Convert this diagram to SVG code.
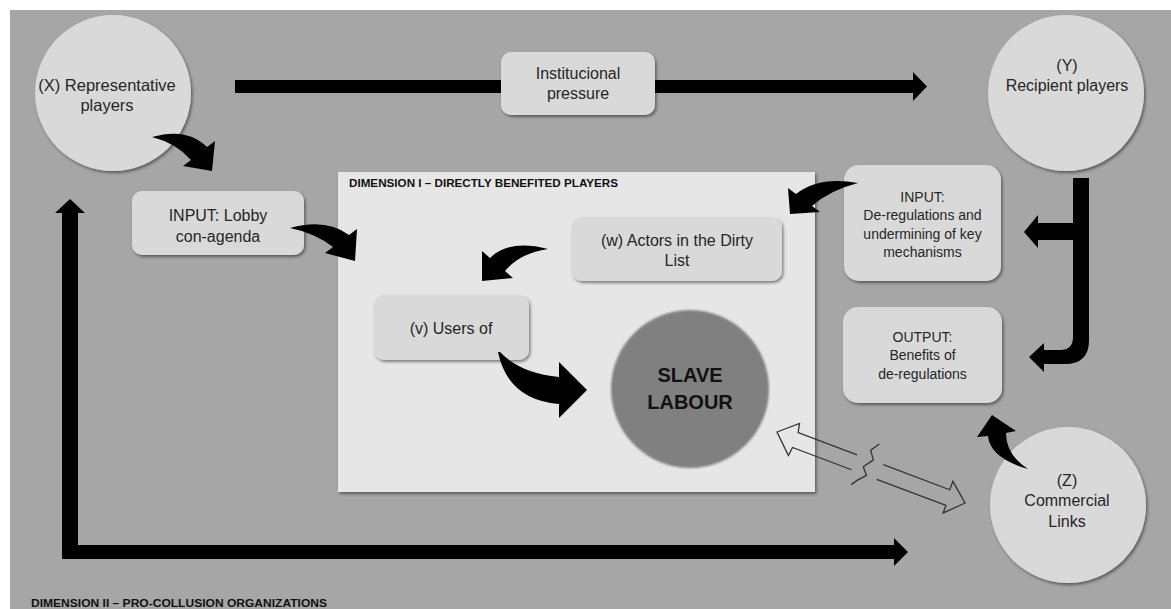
<svg xmlns="http://www.w3.org/2000/svg" width="1171" height="609" viewBox="0 0 1171 609">
<defs>
<filter id="sh" x="-20%" y="-20%" width="140%" height="140%">
<feDropShadow dx="1.5" dy="2" stdDeviation="1.8" flood-color="#000" flood-opacity="0.45"/>
</filter>
<filter id="bl" x="-20%" y="-20%" width="140%" height="140%">
<feGaussianBlur stdDeviation="1.2"/>
</filter>
</defs>
<style>
.node{fill:#d9d9d9;filter:url(#sh)}
.t{font-family:"Liberation Sans",Arial,sans-serif;font-size:16px;fill:#262626;text-anchor:middle}
.s{font-size:14px}
.title{font-family:"Liberation Sans",Arial,sans-serif;font-size:10.5px;font-weight:bold;fill:#111}
.blk{fill:#000}
.hollow{fill:none;stroke:#333;stroke-width:1.3;stroke-linejoin:miter}
</style>
<rect x="0" y="0" width="1171" height="609" fill="#fff"/>
<rect x="10" y="10" width="1161" height="599" fill="#a6a6a6"/>

<g id="dimension-1">
<rect x="338" y="172" width="477" height="320" fill="#e7e6e6" filter="url(#sh)"/>
<text class="title" x="349" y="187" textLength="269" lengthAdjust="spacingAndGlyphs">DIMENSION I – DIRECTLY BENEFITED PLAYERS</text>
</g>

<g id="node-x">
<circle class="node" cx="113" cy="93" r="78"/>
<text class="t" x="107" y="91" style="font-size:16.5px">(X) Representative</text>
<text class="t" x="107" y="111" style="font-size:16.5px">players</text>
</g>

<g id="node-y">
<circle class="node" cx="1066" cy="93" r="78"/>
<text class="t" x="1067" y="71">(Y)</text>
<text class="t" x="1067" y="91">Recipient players</text>
</g>

<g id="node-pressure">
<rect class="node" x="501" y="52" width="154" height="63" rx="10"/>
<text class="t" x="578" y="79">Institucional</text>
<text class="t" x="578" y="99">pressure</text>
</g>

<g id="node-lobby">
<rect class="node" x="132" y="191" width="172" height="64" rx="10"/>
<text class="t" x="218" y="221">INPUT: Lobby</text>
<text class="t" x="218" y="242">con-agenda</text>
</g>

<g id="node-dereg">
<rect class="node" x="844" y="165" width="157" height="116" rx="15"/>
<text class="t s" x="922.5" y="202">INPUT:</text>
<text class="t s" x="922.5" y="220">De-regulations and</text>
<text class="t s" x="922.5" y="239">undermining of key</text>
<text class="t s" x="922.5" y="257">mechanisms</text>
</g>

<g id="node-output">
<rect class="node" x="843" y="307" width="159" height="96" rx="15"/>
<text class="t s" x="922.5" y="342">OUTPUT:</text>
<text class="t s" x="922.5" y="360">Benefits of</text>
<text class="t s" x="922.5" y="379">de-regulations</text>
</g>

<g id="node-w">
<rect class="node" x="572" y="217" width="210" height="64" rx="10"/>
<text class="t" x="677" y="246">(w) Actors in the Dirty</text>
<text class="t" x="677" y="266">List</text>
</g>

<g id="node-v">
<rect class="node" x="374" y="295" width="155" height="65" rx="10"/>
<text class="t" x="451" y="334">(v) Users of</text>
</g>

<g id="node-slave">
<circle cx="690" cy="389" r="79" fill="#808080" filter="url(#bl)"/>
<text class="t" x="690" y="382" style="font-size:20px;font-weight:bold;fill:#111">SLAVE</text>
<text class="t" x="690" y="409" style="font-size:20px;font-weight:bold;fill:#111">LABOUR</text>
</g>

<g id="node-z">
<circle class="node" cx="1068" cy="505" r="78"/>
<text class="t" x="1067" y="486">(Z)</text>
<text class="t" x="1067" y="506">Commercial</text>
<text class="t" x="1067" y="527">Links</text>
</g>

<g id="connectors">
<!-- top straight arrow (passes behind the pressure box) -->
<rect class="blk" x="235" y="80" width="266" height="13"/>
<path class="blk" d="M655,80 L913,80 L913,72 L927,86.5 L913,101 L913,93 L655,93 Z"/>
<!-- left/bottom L arrow -->
<path class="blk" d="M62,213 L55,213 L70,199 L85,213 L78,213 L78,545 L894,545 L894,538 L908,552 L894,566 L894,559 L62,559 Z"/>
<!-- right bracket arrows -->
<path class="blk" d="M1073,178 L1089,178 L1089,340 Q1089,364 1065,364 L1044,364 L1044,372 L1029,357 L1044,343 L1044,350 L1060,350 Q1073,350 1073,337 Z"/>
<path class="blk" d="M1073,223 L1038,223 L1038,215 L1024,232 L1038,248 L1038,240 L1073,240 Z"/>
<!-- curved arrows -->
<path class="blk" d="M152,137 Q187,127 207,147 L215,141 L212,171 L183,166 L191,160 Q176,143 152,137 Z"/>
<path class="blk" d="M290,228 Q326,218 349,235 L357,229 L355,261 L325,253 L333,247 Q315,233 290,228 Z"/>
<path class="blk" d="M858,183 Q819,176 796,194 L788,188 L790,214 L820,212 L812,206 Q830,190 858,183 Z"/>
<path class="blk" d="M548,249 Q509,239 490,258 L482,251 L482,281 L513,278 L505,271 Q520,253 548,249 Z"/>
<path class="blk" d="M500,352 Q520,373 559,377 L559,362 L587,390 L559,418 L559,404 Q508,400 498,352 Z"/>
<path class="blk" d="M1028,469 Q990,458 988,436 L977,437 L992,415 L1016,431 L1006,433 Q1006,455 1028,469 Z"/>
<!-- hollow broken double arrow -->
<g transform="translate(777,432) rotate(20.7)">
<polyline class="hollow" points="83,-7 20,-7 18,-16 0,0 19,18 20,9 83,9"/>
<polyline class="hollow" points="111,-7 182,-7 182,-16 201,0 184,17 184,9 110,9"/>
<polyline class="hollow" points="100,-25 94,-16 100,-8 93,2 99,9 92,17 88,23"/>
</g>
</g>

<g id="dimension-2">
<text class="title" x="31" y="607" textLength="296" lengthAdjust="spacingAndGlyphs">DIMENSION II – PRO-COLLUSION ORGANIZATIONS</text>
</g>
</svg>
